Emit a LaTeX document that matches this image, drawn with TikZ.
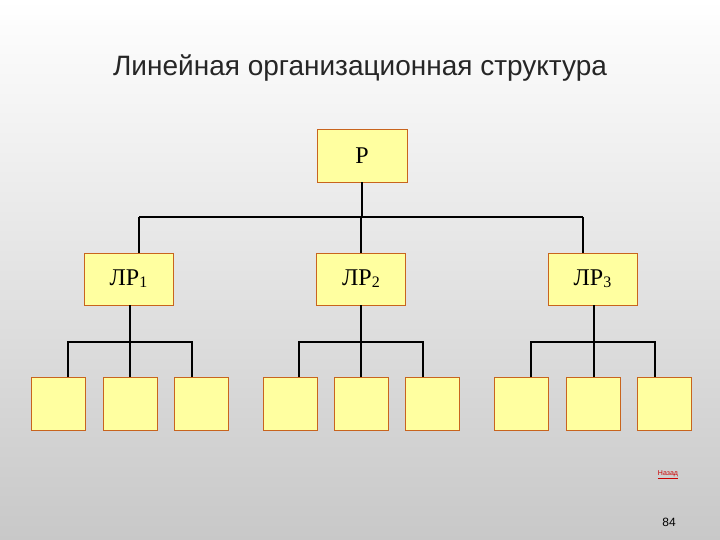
\documentclass[tikz,border=0pt]{standalone}
\usepackage{fontspec}
\setmainfont{Liberation Serif}
\newfontfamily\sansf{Liberation Sans}
\begin{document}
\begin{tikzpicture}[x=1pt,y=-1pt,
  box/.style={draw=boxline,fill=boxfill,line width=0.9pt,inner sep=0pt},
  conn/.style={line width=1.6pt,black}]
\definecolor{boxfill}{RGB}{255,255,160}
\definecolor{boxline}{RGB}{200,100,30}
\definecolor{bgtop}{RGB}{255,255,255}
\definecolor{bgbot}{RGB}{200,200,200}
\shade[top color=bgtop,bottom color=bgbot] (0,0) rectangle (720,540);
\useasboundingbox (0,0) rectangle (720,540);
\node[font=\sansf\fontsize{28}{32}\selectfont,text=black!85] (title) at (360,68) {Линейная организационная структура};
\node[box,minimum width=90,minimum height=53,font=\fontsize{24}{28}\selectfont] (p) at (362,155.5) {Р};
\foreach \n/\x/\i in {l1/128.5/1,l2/361/2,l3/592.5/3}
  \node[box,minimum width=89,minimum height=52,font=\fontsize{24}{28}\selectfont] (\n) at (\x,279) {ЛР\raisebox{-2pt}{\fontsize{16}{18}\selectfont\i}};
\foreach \n/\x in {a1/58.5,a2/130,a3/201,b1/290,b2/361,b3/432,c1/521.5,c2/593,c3/664}
  \node[box,minimum width=54,minimum height=53] (\n) at (\x,403.5) {};
\coordinate (hl) at (139,217); \coordinate (hr) at (583,217);
\draw[conn] (p.south) -- (p.south |- hl);
\draw[conn] (hl) -- (hr);
\draw[conn] (hl) -- (hl |- l1.north);
\draw[conn] (l2.north |- hl) -- (l2.north);
\draw[conn] (hr) -- (hr |- l3.north);
\foreach \g/\xa/\xb/\xc in {l1/68/130/192,l2/299/361/423,l3/531/594/655}{
  \draw[conn] (\xb,305) -- (\xb,377);
  \draw[conn] (\xa,377) -- (\xa,342) -- (\xc,342) -- (\xc,377);
}
\node[font=\sansf\fontsize{7}{8}\selectfont,text=red!80!black] (back) at (668,475) {\underline{Назад}};
\node[font=\sansf\fontsize{12}{14}\selectfont] (num) at (669,522) {84};
\end{tikzpicture}
\end{document}
